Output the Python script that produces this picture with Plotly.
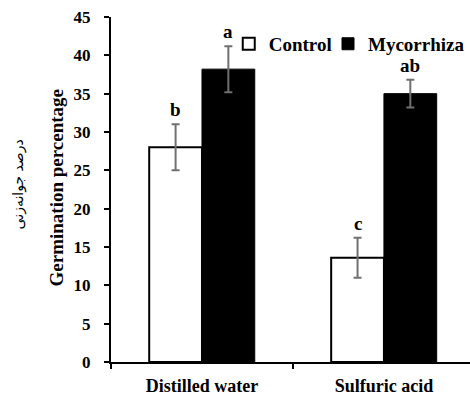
import plotly.graph_objects as go

categories = ["Distilled water", "Sulfuric acid"]
control = [28.0, 13.6]
control_err = [3.0, 2.6]
myco = [38.2, 35.0]
myco_err = [3.0, 1.8]
control_letters = ["b", "c"]
myco_letters = ["a", "ab"]
yticks = [0, 5, 10, 15, 20, 25, 30, 35, 40, 45]

SERIF = "Liberation Serif"
BARGAP = 0.42
ERR_COLOR = "#707070"

fig = go.Figure()
fig.add_trace(go.Bar(
    name="Control", x=categories, y=control, legend="legend",
    marker=dict(color="white", line=dict(color="black", width=2)),
    error_y=dict(type="data", array=control_err, color=ERR_COLOR, thickness=2, width=4),
))
fig.add_trace(go.Bar(
    name="Mycorrhiza", x=categories, y=myco, legend="legend2",
    marker=dict(color="black", line=dict(color="black", width=1)),
    error_y=dict(type="data", array=myco_err, color=ERR_COLOR, thickness=2, width=4),
))

w = (1 - BARGAP) / 2
annotations = []
for i in range(len(categories)):
    for vals, errs, letters, off in ((control, control_err, control_letters, -w / 2),
                                      (myco, myco_err, myco_letters, w / 2)):
        annotations.append(dict(
            x=i + off, y=vals[i] + errs[i], xref="x", yref="y",
            text=letters[i], showarrow=False,
            yanchor="bottom", yshift=2,
            font=dict(family=SERIF, size=19, color="black", weight="bold"),
        ))

annotations.append(dict(
    x=-0.152, y=0.507, xref="paper", yref="paper", textangle=-90,
    text="Germination percentage", showarrow=False,
    xanchor="center", yanchor="middle",
    font=dict(family=SERIF, size=19, color="black", weight="bold"),
))
annotations.append(dict(
    x=-0.255, y=0.516, xref="paper", yref="paper", textangle=-90,
    text="درصد جوانه‌زنی", showarrow=False,
    xanchor="center", yanchor="middle",
    font=dict(family="DejaVu Sans", size=14, color="black"),
))

legend_common = dict(
    orientation="h", y=0.922, yanchor="middle",
    font=dict(family=SERIF, size=19, color="black", weight="bold"),
    bgcolor="rgba(0,0,0,0)", itemwidth=30, borderwidth=0,
)

fig.update_layout(
    width=470, height=396,
    margin=dict(l=111, r=0, t=17, b=32),
    paper_bgcolor="white", plot_bgcolor="white",
    barmode="group", bargap=BARGAP, bargroupgap=0,
    showlegend=True,
    legend=dict(x=0.328, xanchor="left", **legend_common),
    legend2=dict(x=1.0, xanchor="right", **legend_common),
    annotations=annotations,
    font=dict(family=SERIF, color="black"),
)
fig.update_xaxes(
    range=[-0.5, 1.473],
    showline=True, linecolor="black", linewidth=2,
    ticks="outside", tickson="boundaries", ticklen=5, tickwidth=1.5, tickcolor="black",
    tickfont=dict(family=SERIF, size=18, color="black", weight="bold"),
    ticklabelstandoff=6,
    showgrid=False, zeroline=False,
)
fig.update_yaxes(
    range=[0, 45],
    showline=True, linecolor="black", linewidth=2,
    ticks="outside", ticklen=5, tickwidth=1.5, tickcolor="black",
    tickvals=yticks,
    tickfont=dict(family=SERIF, size=17, color="black", weight="bold"),
    ticklabelstandoff=10,
    showgrid=False, zeroline=False,
)

fig.write_html("out.html")
